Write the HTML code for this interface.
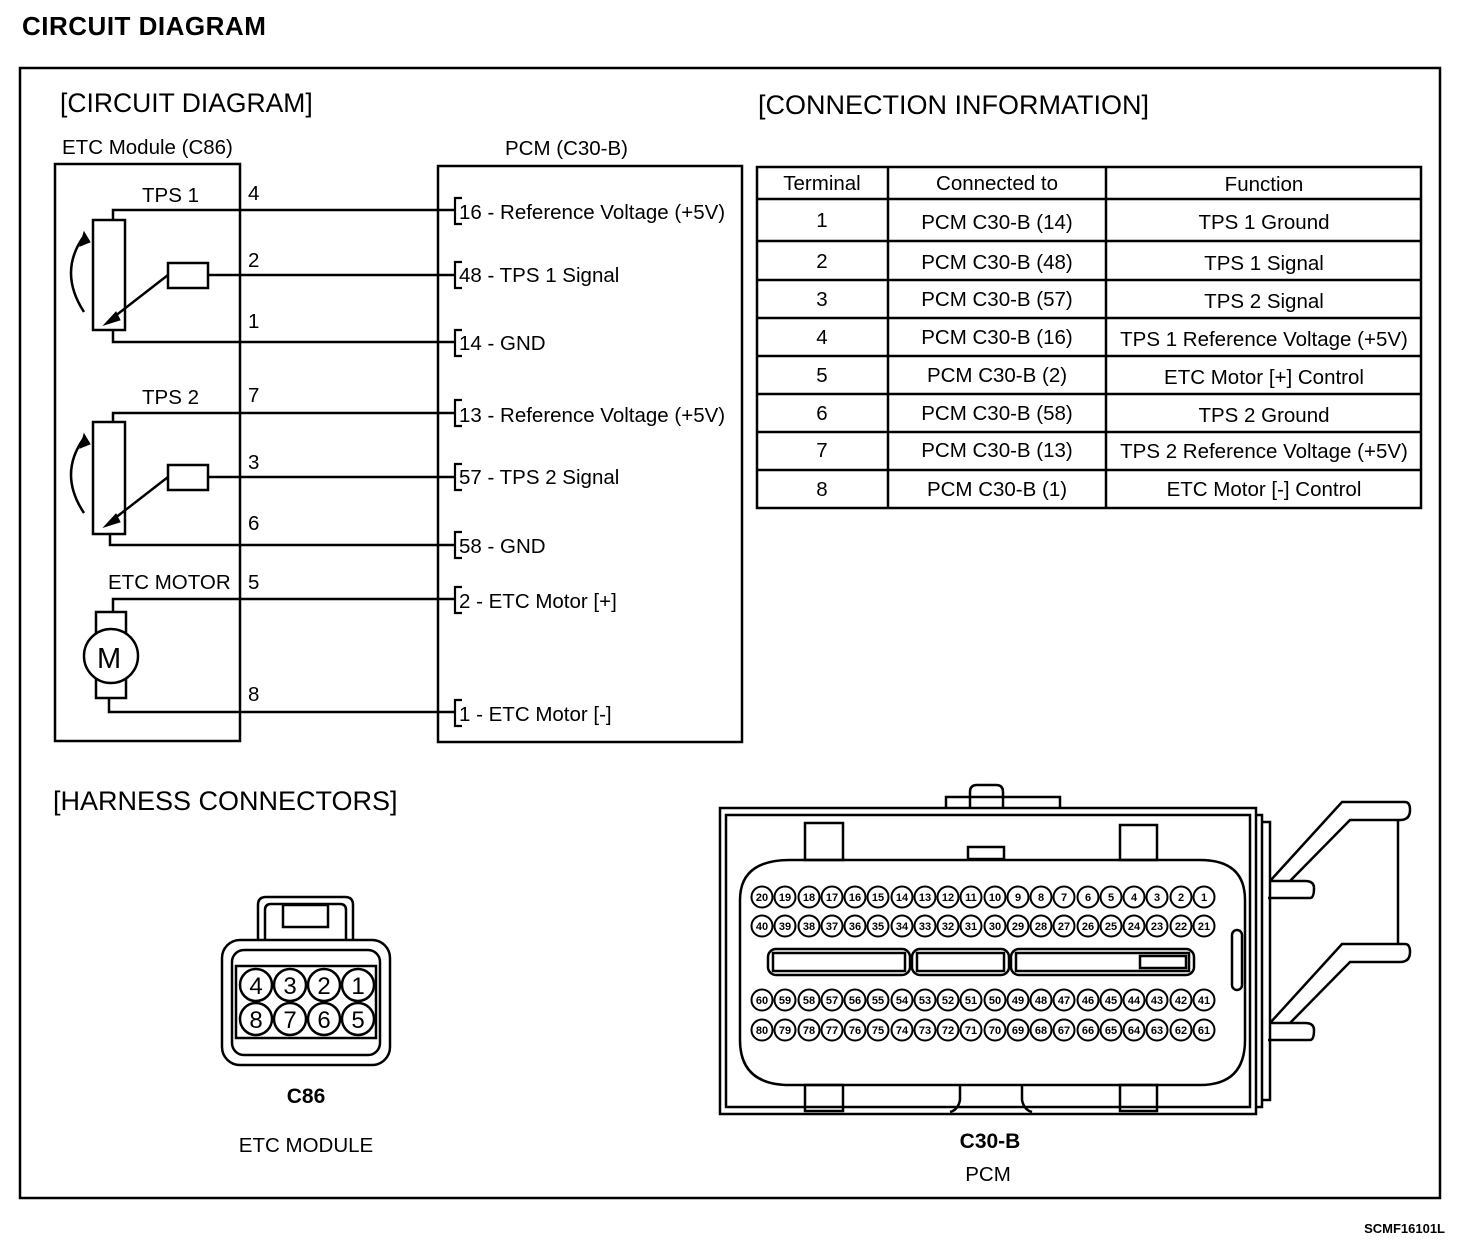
<!DOCTYPE html>
<html><head><meta charset="utf-8"><style>
html,body{margin:0;padding:0;background:#fff}
svg{display:block}
text{font-family:"Liberation Sans",Arial,sans-serif;fill:#000}
.t{font-size:20.5px}
.pn{font-size:11px;font-weight:bold;text-anchor:middle}
.cn{font-size:24px;text-anchor:middle}
</style></head><body>
<svg width="1472" height="1252" viewBox="0 0 1472 1252" xmlns="http://www.w3.org/2000/svg">
<g fill="none" stroke="#000" stroke-width="2.5">
<rect x="20" y="68" width="1420" height="1130"/>
<rect x="55" y="164" width="185" height="577"/>
<rect x="438" y="166" width="304" height="576"/>
<polyline points="113,220 113,210 455,210"/>
<polyline points="208,275 455,275"/>
<polyline points="113,330 113,342 455,342"/>
<polyline points="113,423 113,413 455,413"/>
<polyline points="208,477 455,477"/>
<polyline points="110,533 110,545 455,545"/>
<polyline points="113,612 113,599 455,599"/>
<polyline points="109,697 109,712 455,712"/>
<rect x="93" y="220" width="32" height="110"/>
<rect x="168" y="263" width="40" height="25"/>
<rect x="93" y="422" width="32" height="112"/>
<rect x="168" y="465" width="40" height="25"/>
<path d="M84,312 Q58,272 84,236"/>
<path d="M84,513 Q58,474 84,438"/>
<rect x="96" y="612" width="30" height="22"/>
<rect x="96" y="676" width="30" height="22"/>
<circle cx="111" cy="656" r="27" fill="#fff"/>
</g>
<g stroke="#000" stroke-width="2.5" fill="#000">
<line x1="168" y1="275" x2="110" y2="320"/>
<polygon points="104,325 116,312 120,320" stroke-width="1"/>
<line x1="168" y1="477" x2="110" y2="522"/>
<polygon points="104,527 116,514 120,522" stroke-width="1"/>
<polygon points="84,232 80,246 90,242" stroke-width="1"/>
<polygon points="84,434 80,448 90,444" stroke-width="1"/>
</g>
<g fill="none" stroke="#000" stroke-width="2.2">
<path d="M462,198 H455 V224 H462"/>
<path d="M462,262 H455 V288 H462"/>
<path d="M462,330 H455 V356 H462"/>
<path d="M462,400 H455 V426 H462"/>
<path d="M462,464 H455 V490 H462"/>
<path d="M462,532 H455 V558 H462"/>
<path d="M462,587 H455 V613 H462"/>
<path d="M462,700 H455 V726 H462"/>
</g>
<text x="22" y="35" style="font-size:26px;font-weight:bold;letter-spacing:0.5px">CIRCUIT  DIAGRAM</text>
<text x="60" y="112" style="font-size:26.5px">[CIRCUIT DIAGRAM]</text>
<text x="758" y="114" style="font-size:27px">[CONNECTION INFORMATION]</text>
<text x="53" y="810" style="font-size:27px">[HARNESS CONNECTORS]</text>
<text x="62" y="154" class="t">ETC Module (C86)</text>
<text x="505" y="155" class="t">PCM (C30-B)</text>
<text x="142" y="202" class="t">TPS 1</text>
<text x="142" y="404" class="t">TPS 2</text>
<text x="108" y="589" class="t">ETC MOTOR</text>
<text x="97" y="668" style="font-size:29px">M</text>
<g class="t">
<text x="248" y="200">4</text><text x="248" y="267">2</text><text x="248" y="328">1</text>
<text x="248" y="402">7</text><text x="248" y="469">3</text><text x="248" y="530">6</text>
<text x="248" y="589">5</text><text x="248" y="701">8</text>
<text x="459" y="219">16 - Reference Voltage (+5V)</text>
<text x="459" y="282">48 - TPS 1 Signal</text>
<text x="459" y="350">14 - GND</text>
<text x="459" y="422">13 - Reference Voltage (+5V)</text>
<text x="459" y="484">57 - TPS 2 Signal</text>
<text x="459" y="553">58 - GND</text>
<text x="459" y="608">2 - ETC Motor [+]</text>
<text x="459" y="721">1 - ETC Motor [-]</text>
</g>
<g fill="none" stroke="#000" stroke-width="2.5">
<rect x="757" y="167" width="664" height="341"/>
<line x1="888" y1="167" x2="888" y2="508"/><line x1="1106" y1="167" x2="1106" y2="508"/>
<line x1="757" y1="199" x2="1421" y2="199"/><line x1="757" y1="241" x2="1421" y2="241"/>
<line x1="757" y1="280" x2="1421" y2="280"/><line x1="757" y1="318" x2="1421" y2="318"/>
<line x1="757" y1="356" x2="1421" y2="356"/><line x1="757" y1="394" x2="1421" y2="394"/>
<line x1="757" y1="432" x2="1421" y2="432"/><line x1="757" y1="470" x2="1421" y2="470"/>
</g>
<g class="t" text-anchor="middle">
<text x="822" y="190">Terminal</text><text x="997" y="190">Connected to</text><text x="1264" y="191">Function</text>
<text x="822" y="227">1</text><text x="997" y="229">PCM C30-B  (14)</text><text x="1264" y="229">TPS 1 Ground</text>
<text x="822" y="268">2</text><text x="997" y="269">PCM C30-B  (48)</text><text x="1264" y="270">TPS 1 Signal</text>
<text x="822" y="306">3</text><text x="997" y="306">PCM C30-B (57)</text><text x="1264" y="308">TPS 2 Signal</text>
<text x="822" y="344">4</text><text x="997" y="344">PCM C30-B  (16)</text><text x="1264" y="346">TPS 1 Reference Voltage (+5V)</text>
<text x="822" y="382">5</text><text x="997" y="382">PCM C30-B (2)</text><text x="1264" y="384">ETC Motor [+] Control</text>
<text x="822" y="420">6</text><text x="997" y="420">PCM C30-B  (58)</text><text x="1264" y="422">TPS 2 Ground</text>
<text x="822" y="457">7</text><text x="997" y="457">PCM C30-B (13)</text><text x="1264" y="458">TPS 2 Reference Voltage (+5V)</text>
<text x="822" y="496">8</text><text x="997" y="496">PCM C30-B (1)</text><text x="1264" y="496">ETC Motor [-] Control</text>
</g>
<g fill="none" stroke="#000" stroke-width="2.5">
<path d="M258,940 V905 Q258,897 266,897 H345 Q353,897 353,905 V940"/>
<path d="M265,940 V910 Q265,904 271,904 H340 Q346,904 346,910 V940"/>
<rect x="283" y="905" width="45" height="22"/>
<rect x="222" y="940" width="168" height="125" rx="18"/>
<rect x="232" y="950" width="148" height="105" rx="12"/>
<rect x="236" y="966" width="140" height="72"/>
<circle cx="256" cy="985" r="16" fill="#fff"/><circle cx="290" cy="985" r="16" fill="#fff"/><circle cx="324" cy="985" r="16" fill="#fff"/><circle cx="358" cy="985" r="16" fill="#fff"/>
<circle cx="256" cy="1019" r="16" fill="#fff"/><circle cx="290" cy="1019" r="16" fill="#fff"/><circle cx="324" cy="1019" r="16" fill="#fff"/><circle cx="358" cy="1019" r="16" fill="#fff"/>
</g>
<g class="cn">
<text x="256" y="994">4</text><text x="290" y="994">3</text><text x="324" y="994">2</text><text x="358" y="994">1</text>
<text x="256" y="1028">8</text><text x="290" y="1028">7</text><text x="324" y="1028">6</text><text x="358" y="1028">5</text>
</g>
<text x="306" y="1103" text-anchor="middle" style="font-size:21px;font-weight:bold">C86</text>
<text x="306" y="1152" text-anchor="middle" class="t">ETC MODULE</text>
<g fill="none" stroke="#000" stroke-width="2.5">
<rect x="720" y="808" width="536" height="306"/>
<rect x="726" y="815" width="524" height="292"/>
<path d="M970,808 V792 Q970,785 977,785 H996 Q1003,785 1003,792 V808"/>
<path d="M946,808 V797 H1060 V808"/>
<path d="M1256,815 H1262 V1107 H1256 M1262,822 H1270 V1100 H1262"/>
<path d="M790,860 Q740,860 740,900 V1040 Q740,1085 790,1085 H1200 Q1245,1085 1245,1040 V900 Q1245,860 1200,860 Z"/>
<rect x="805" y="823" width="38" height="37"/>
<rect x="1120" y="825" width="37" height="35"/>
<rect x="968" y="847" width="36" height="12"/>
<rect x="805" y="1085" width="38" height="26"/>
<rect x="1120" y="1085" width="37" height="26"/>
<path d="M960,1085 V1100 Q958,1110 950,1112 M1022,1085 V1100 Q1024,1110 1032,1112"/>
<rect x="1232" y="930" width="10" height="60" rx="5"/>
<rect x="768" y="949" width="142" height="26" rx="8"/><rect x="773" y="953" width="132" height="18"/>
<rect x="912" y="949" width="97" height="26" rx="8"/><rect x="917" y="953" width="87" height="18"/>
<rect x="1011" y="949" width="183" height="26" rx="8"/><rect x="1016" y="953" width="173" height="18"/>
<rect x="1140" y="956" width="46" height="12"/>
<path d="M1268,898 H1310 Q1314,898 1314,888 Q1314,881 1305,881 H1270"/>
<path d="M1268,1040 H1310 Q1314,1040 1314,1030 Q1314,1023 1305,1023 H1270"/>
<path d="M1270,881 L1342,802 H1405 Q1410,802 1410,810 Q1410,820 1400,820 H1350 L1290,881"/>
<path d="M1270,1023 L1342,944 H1405 Q1410,944 1410,952 Q1410,962 1400,962 H1350 L1290,1023"/>
<line x1="1398" y1="820" x2="1398" y2="944"/>
</g>
<g fill="#fff" stroke="#000" stroke-width="2">
<circle cx="1204" cy="897" r="10.5"/><circle cx="1181" cy="897" r="10.5"/><circle cx="1157" cy="897" r="10.5"/><circle cx="1134" cy="897" r="10.5"/><circle cx="1111" cy="897" r="10.5"/><circle cx="1088" cy="897" r="10.5"/><circle cx="1064" cy="897" r="10.5"/><circle cx="1041" cy="897" r="10.5"/><circle cx="1018" cy="897" r="10.5"/><circle cx="995" cy="897" r="10.5"/><circle cx="971" cy="897" r="10.5"/><circle cx="948" cy="897" r="10.5"/><circle cx="925" cy="897" r="10.5"/><circle cx="902" cy="897" r="10.5"/><circle cx="878" cy="897" r="10.5"/><circle cx="855" cy="897" r="10.5"/><circle cx="832" cy="897" r="10.5"/><circle cx="809" cy="897" r="10.5"/><circle cx="785" cy="897" r="10.5"/><circle cx="762" cy="897" r="10.5"/>
<circle cx="1204" cy="926" r="10.5"/><circle cx="1181" cy="926" r="10.5"/><circle cx="1157" cy="926" r="10.5"/><circle cx="1134" cy="926" r="10.5"/><circle cx="1111" cy="926" r="10.5"/><circle cx="1088" cy="926" r="10.5"/><circle cx="1064" cy="926" r="10.5"/><circle cx="1041" cy="926" r="10.5"/><circle cx="1018" cy="926" r="10.5"/><circle cx="995" cy="926" r="10.5"/><circle cx="971" cy="926" r="10.5"/><circle cx="948" cy="926" r="10.5"/><circle cx="925" cy="926" r="10.5"/><circle cx="902" cy="926" r="10.5"/><circle cx="878" cy="926" r="10.5"/><circle cx="855" cy="926" r="10.5"/><circle cx="832" cy="926" r="10.5"/><circle cx="809" cy="926" r="10.5"/><circle cx="785" cy="926" r="10.5"/><circle cx="762" cy="926" r="10.5"/>
<circle cx="1204" cy="1000" r="10.5"/><circle cx="1181" cy="1000" r="10.5"/><circle cx="1157" cy="1000" r="10.5"/><circle cx="1134" cy="1000" r="10.5"/><circle cx="1111" cy="1000" r="10.5"/><circle cx="1088" cy="1000" r="10.5"/><circle cx="1064" cy="1000" r="10.5"/><circle cx="1041" cy="1000" r="10.5"/><circle cx="1018" cy="1000" r="10.5"/><circle cx="995" cy="1000" r="10.5"/><circle cx="971" cy="1000" r="10.5"/><circle cx="948" cy="1000" r="10.5"/><circle cx="925" cy="1000" r="10.5"/><circle cx="902" cy="1000" r="10.5"/><circle cx="878" cy="1000" r="10.5"/><circle cx="855" cy="1000" r="10.5"/><circle cx="832" cy="1000" r="10.5"/><circle cx="809" cy="1000" r="10.5"/><circle cx="785" cy="1000" r="10.5"/><circle cx="762" cy="1000" r="10.5"/>
<circle cx="1204" cy="1030" r="10.5"/><circle cx="1181" cy="1030" r="10.5"/><circle cx="1157" cy="1030" r="10.5"/><circle cx="1134" cy="1030" r="10.5"/><circle cx="1111" cy="1030" r="10.5"/><circle cx="1088" cy="1030" r="10.5"/><circle cx="1064" cy="1030" r="10.5"/><circle cx="1041" cy="1030" r="10.5"/><circle cx="1018" cy="1030" r="10.5"/><circle cx="995" cy="1030" r="10.5"/><circle cx="971" cy="1030" r="10.5"/><circle cx="948" cy="1030" r="10.5"/><circle cx="925" cy="1030" r="10.5"/><circle cx="902" cy="1030" r="10.5"/><circle cx="878" cy="1030" r="10.5"/><circle cx="855" cy="1030" r="10.5"/><circle cx="832" cy="1030" r="10.5"/><circle cx="809" cy="1030" r="10.5"/><circle cx="785" cy="1030" r="10.5"/><circle cx="762" cy="1030" r="10.5"/>
</g>
<g class="pn">
<text x="1204" y="901">1</text><text x="1181" y="901">2</text><text x="1157" y="901">3</text><text x="1134" y="901">4</text><text x="1111" y="901">5</text><text x="1088" y="901">6</text><text x="1064" y="901">7</text><text x="1041" y="901">8</text><text x="1018" y="901">9</text><text x="995" y="901">10</text><text x="971" y="901">11</text><text x="948" y="901">12</text><text x="925" y="901">13</text><text x="902" y="901">14</text><text x="878" y="901">15</text><text x="855" y="901">16</text><text x="832" y="901">17</text><text x="809" y="901">18</text><text x="785" y="901">19</text><text x="762" y="901">20</text>
<text x="1204" y="930">21</text><text x="1181" y="930">22</text><text x="1157" y="930">23</text><text x="1134" y="930">24</text><text x="1111" y="930">25</text><text x="1088" y="930">26</text><text x="1064" y="930">27</text><text x="1041" y="930">28</text><text x="1018" y="930">29</text><text x="995" y="930">30</text><text x="971" y="930">31</text><text x="948" y="930">32</text><text x="925" y="930">33</text><text x="902" y="930">34</text><text x="878" y="930">35</text><text x="855" y="930">36</text><text x="832" y="930">37</text><text x="809" y="930">38</text><text x="785" y="930">39</text><text x="762" y="930">40</text>
<text x="1204" y="1004">41</text><text x="1181" y="1004">42</text><text x="1157" y="1004">43</text><text x="1134" y="1004">44</text><text x="1111" y="1004">45</text><text x="1088" y="1004">46</text><text x="1064" y="1004">47</text><text x="1041" y="1004">48</text><text x="1018" y="1004">49</text><text x="995" y="1004">50</text><text x="971" y="1004">51</text><text x="948" y="1004">52</text><text x="925" y="1004">53</text><text x="902" y="1004">54</text><text x="878" y="1004">55</text><text x="855" y="1004">56</text><text x="832" y="1004">57</text><text x="809" y="1004">58</text><text x="785" y="1004">59</text><text x="762" y="1004">60</text>
<text x="1204" y="1034">61</text><text x="1181" y="1034">62</text><text x="1157" y="1034">63</text><text x="1134" y="1034">64</text><text x="1111" y="1034">65</text><text x="1088" y="1034">66</text><text x="1064" y="1034">67</text><text x="1041" y="1034">68</text><text x="1018" y="1034">69</text><text x="995" y="1034">70</text><text x="971" y="1034">71</text><text x="948" y="1034">72</text><text x="925" y="1034">73</text><text x="902" y="1034">74</text><text x="878" y="1034">75</text><text x="855" y="1034">76</text><text x="832" y="1034">77</text><text x="809" y="1034">78</text><text x="785" y="1034">79</text><text x="762" y="1034">80</text>
</g>
<text x="990" y="1148" text-anchor="middle" style="font-size:21px;font-weight:bold">C30-B</text>
<text x="988" y="1181" text-anchor="middle" class="t">PCM</text>
<text x="1445" y="1233" text-anchor="end" style="font-size:13px;font-weight:bold">SCMF16101L</text>
</svg>
</body></html>
